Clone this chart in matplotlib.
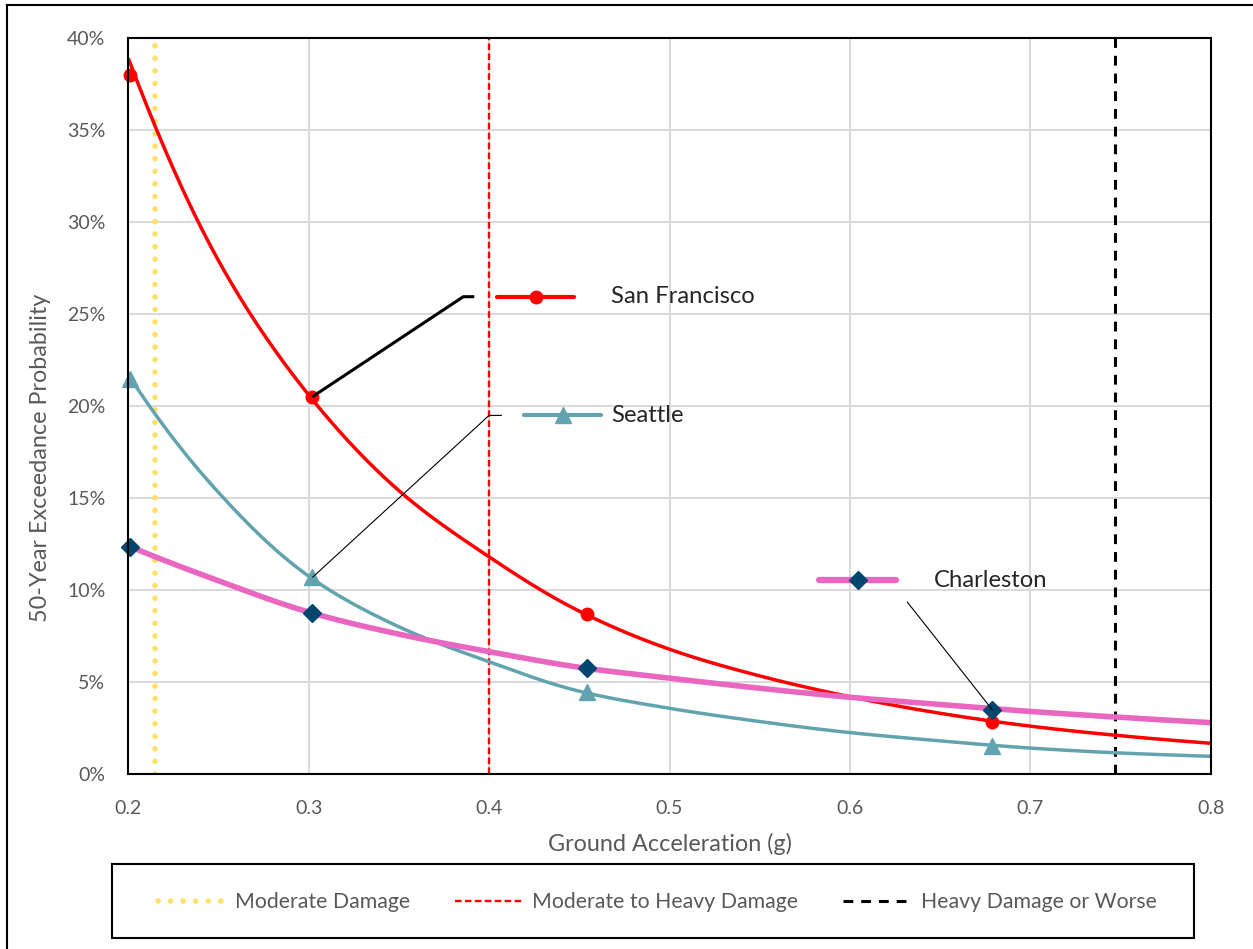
import numpy as np
import matplotlib
matplotlib.use("Agg")
import matplotlib.pyplot as plt
from matplotlib.lines import Line2D
from matplotlib.patches import Rectangle
from matplotlib.ticker import FuncFormatter

plt.rcParams['font.family'] = ['Lato', 'DejaVu Sans']

# ---------------- data ----------------
# marker points
marker_x = [0.201, 0.302, 0.454, 0.679]
sf_pts = [38.0, 20.5, 8.7, 2.81]
sea_pts = [21.48, 10.68, 4.44, 1.54]
chs_pts = [12.36, 8.76, 5.75, 3.48]

# curve (trend) lines
curve_x = [0.20, 0.25, 0.30, 0.35, 0.40, 0.45, 0.50, 0.55, 0.60, 0.65, 0.70, 0.75, 0.80]
sf_curve = [38.9, 27.9, 20.6, 15.4, 11.8, 8.85, 6.78, 5.33, 4.2, 3.3, 2.6, 2.08, 1.67]
sea_curve = [21.7, 15.3, 10.75, 8.0, 6.1, 4.5, 3.57, 2.85, 2.25, 1.80, 1.41, 1.14, 0.96]
chs_curve = [12.4, 10.5, 8.8, 7.6, 6.65, 5.8, 5.21, 4.66, 4.17, 3.78, 3.4, 3.08, 2.79]

series_names = ['San Francisco', 'Seattle', 'Charleston']

# damage thresholds (vertical lines)
threshold_x = [0.215, 0.4, 0.747]
threshold_names = ['Moderate Damage', 'Moderate to Heavy Damage', 'Heavy Damage or Worse']

x_ticks = [0.2, 0.3, 0.4, 0.5, 0.6, 0.7, 0.8]
y_ticks = [0, 5, 10, 15, 20, 25, 30, 35, 40]

# ---------------- helpers ----------------
def smooth(x, y, n=30):
    """Catmull-Rom rendering of the line through the read points (in log-y)."""
    P = np.column_stack([x, np.log(y)]).astype(float)
    P = np.vstack([2 * P[0] - P[1], P, 2 * P[-1] - P[-2]])
    out = []
    t = np.linspace(0, 1, n, endpoint=False)[:, None]
    for i in range(1, len(P) - 2):
        p0, p1, p2, p3 = P[i - 1], P[i], P[i + 1], P[i + 2]
        seg = 0.5 * ((2 * p1) + (-p0 + p2) * t + (2 * p0 - 5 * p1 + 4 * p2 - p3) * t ** 2
                     + (-p0 + 3 * p1 - 3 * p2 + p3) * t ** 3)
        out.append(seg)
    out.append(P[-2][None, :])
    out = np.vstack(out)
    return out[:, 0], np.exp(out[:, 1])

W, H = 1253, 949
fig = plt.figure(figsize=(W / 100, H / 100), dpi=100)
fig.patch.set_facecolor('white')

def fx(px):
    return px / W

def fy(py):
    return 1 - py / H

ax = fig.add_axes([fx(128.3), fy(774), (1210.7 - 128.3) / W, (774 - 38) / H])

TXT = '#595959'
colors = {'San Francisco': '#FF0000', 'Seattle': '#62A3B0', 'Charleston': '#E967C0'}
line_w = {'San Francisco': 2.5, 'Seattle': 2.5, 'Charleston': 4.0}
mk = {'San Francisco': dict(marker='o', ms=9, mfc='#FF0000', mec='#FF0000'),
      'Seattle': dict(marker='^', ms=12, mfc='#62A3B0', mec='#62A3B0'),
      'Charleston': dict(marker='D', ms=9.5, mfc='#00466E', mec='#00466E')}

# grid
ax.set_xlim(0.2, 0.8)
ax.set_ylim(0, 40)
ax.set_xticks(x_ticks)
ax.set_yticks(y_ticks)
ax.grid(True, color='#D9D9D9', lw=1.4, zorder=0)
ax.set_axisbelow(True)
ax.xaxis.set_major_formatter(FuncFormatter(lambda v, p: f'{v:.1f}'))
ax.yaxis.set_major_formatter(FuncFormatter(lambda v, p: f'{v:.0f}%'))
ax.tick_params(length=0, labelsize=14, labelcolor=TXT)
ax.tick_params(axis='y', pad=16.5)
ax.tick_params(axis='x', pad=18.5)
for s in ax.spines.values():
    s.set_color('black')
    s.set_linewidth(1.5)
    s.set_zorder(6)

# threshold lines
vstyles = [dict(color='#FFE066', lw=4.0, ls=(0, (0.01, 2.25)), dash_capstyle='round'),
           dict(color='#FF0000', lw=1.7, ls=(0, (2.8, 1.4))),
           dict(color='#000000', lw=2.2, ls=(0, (3.2, 2.6)))]
v_handles = []
for xv, st, nm in zip(threshold_x, vstyles, threshold_names):
    ax.axvline(xv, zorder=2, **st)
    v_handles.append(Line2D([], [], **st))

# curves + markers
all_curves = [sf_curve, sea_curve, chs_curve]
all_pts = [sf_pts, sea_pts, chs_pts]
for nm, cv, pts in zip(series_names, all_curves, all_pts):
    sx, sy = smooth(curve_x, cv)
    ax.plot(sx, sy, color=colors[nm], lw=line_w[nm], solid_capstyle='butt', zorder=3)
    ax.plot(marker_x, pts, ls='none', zorder=4, clip_on=False, **mk[nm])

# data labels with legend keys and leader lines (layout positions in data units)
label_layout = {
    'San Francisco': dict(pt=1, key=(0.4045, 0.447), y=25.94, tx=0.4675,
                          leader=[(0.3857, 25.94), (0.3918, 25.94)], llw=2.2),
    'Seattle': dict(pt=1, key=(0.4195, 0.4621), y=19.49, tx=0.4675,
                    leader=[(0.400, 19.49), (0.4071, 19.49)], llw=0.8),
    'Charleston': dict(pt=3, key=(0.583, 0.6257), y=10.52, tx=0.6464,
                       leader=[(0.6317, 9.36)], llw=0.8),
}
for nm, pts in zip(series_names, all_pts):
    L = label_layout[nm]
    k0, k1 = L['key']
    ax.plot([k0, k1], [L['y'], L['y']], color=colors[nm], lw=line_w[nm] + 0.5,
            solid_capstyle='round', zorder=5, clip_on=False)
    ax.plot([(k0 + k1) / 2], [L['y']], ls='none', zorder=5, clip_on=False, **mk[nm])
    ax.text(L['tx'], L['y'], nm, fontsize=17.2, color='#262626', va='center', ha='left',
            zorder=7)
    lx = [marker_x[L['pt']]] + [p[0] for p in L['leader']]
    ly = [pts[L['pt']]] + [p[1] for p in L['leader']]
    ax.plot(lx, ly, color='black', lw=L['llw'], zorder=5, solid_capstyle='butt')

# axis titles
fig.text(fx(669.5), fy(844), 'Ground Acceleration (g)', fontsize=16.8, color=TXT,
         ha='center', va='center')
fig.text(fx(41), fy(458), '50-Year Exceedance Probability', fontsize=16.8, color=TXT,
         ha='center', va='center', rotation=90)

# legend box
fig.add_artist(Rectangle((fx(112), fy(938)), (1194 - 112) / W, (938 - 864) / H,
                         transform=fig.transFigure, fill=False, edgecolor='black', lw=1.5))
fig.legend(v_handles, threshold_names, loc='center', bbox_to_anchor=(fx(657), fy(902)),
           ncol=3, frameon=False, fontsize=15.3, labelcolor=TXT, handlelength=3.2,
           handletextpad=0.45, columnspacing=2.1)

# outer chart border (top and left visible)
fig.add_artist(Line2D([fx(7), 1.0], [fy(5), fy(5)], transform=fig.transFigure,
                      color='black', lw=1.5))
fig.add_artist(Line2D([fx(7), fx(7)], [fy(5), 0.0], transform=fig.transFigure,
                      color='black', lw=1.5))

fig.savefig('out.png', dpi=100, facecolor='white')
